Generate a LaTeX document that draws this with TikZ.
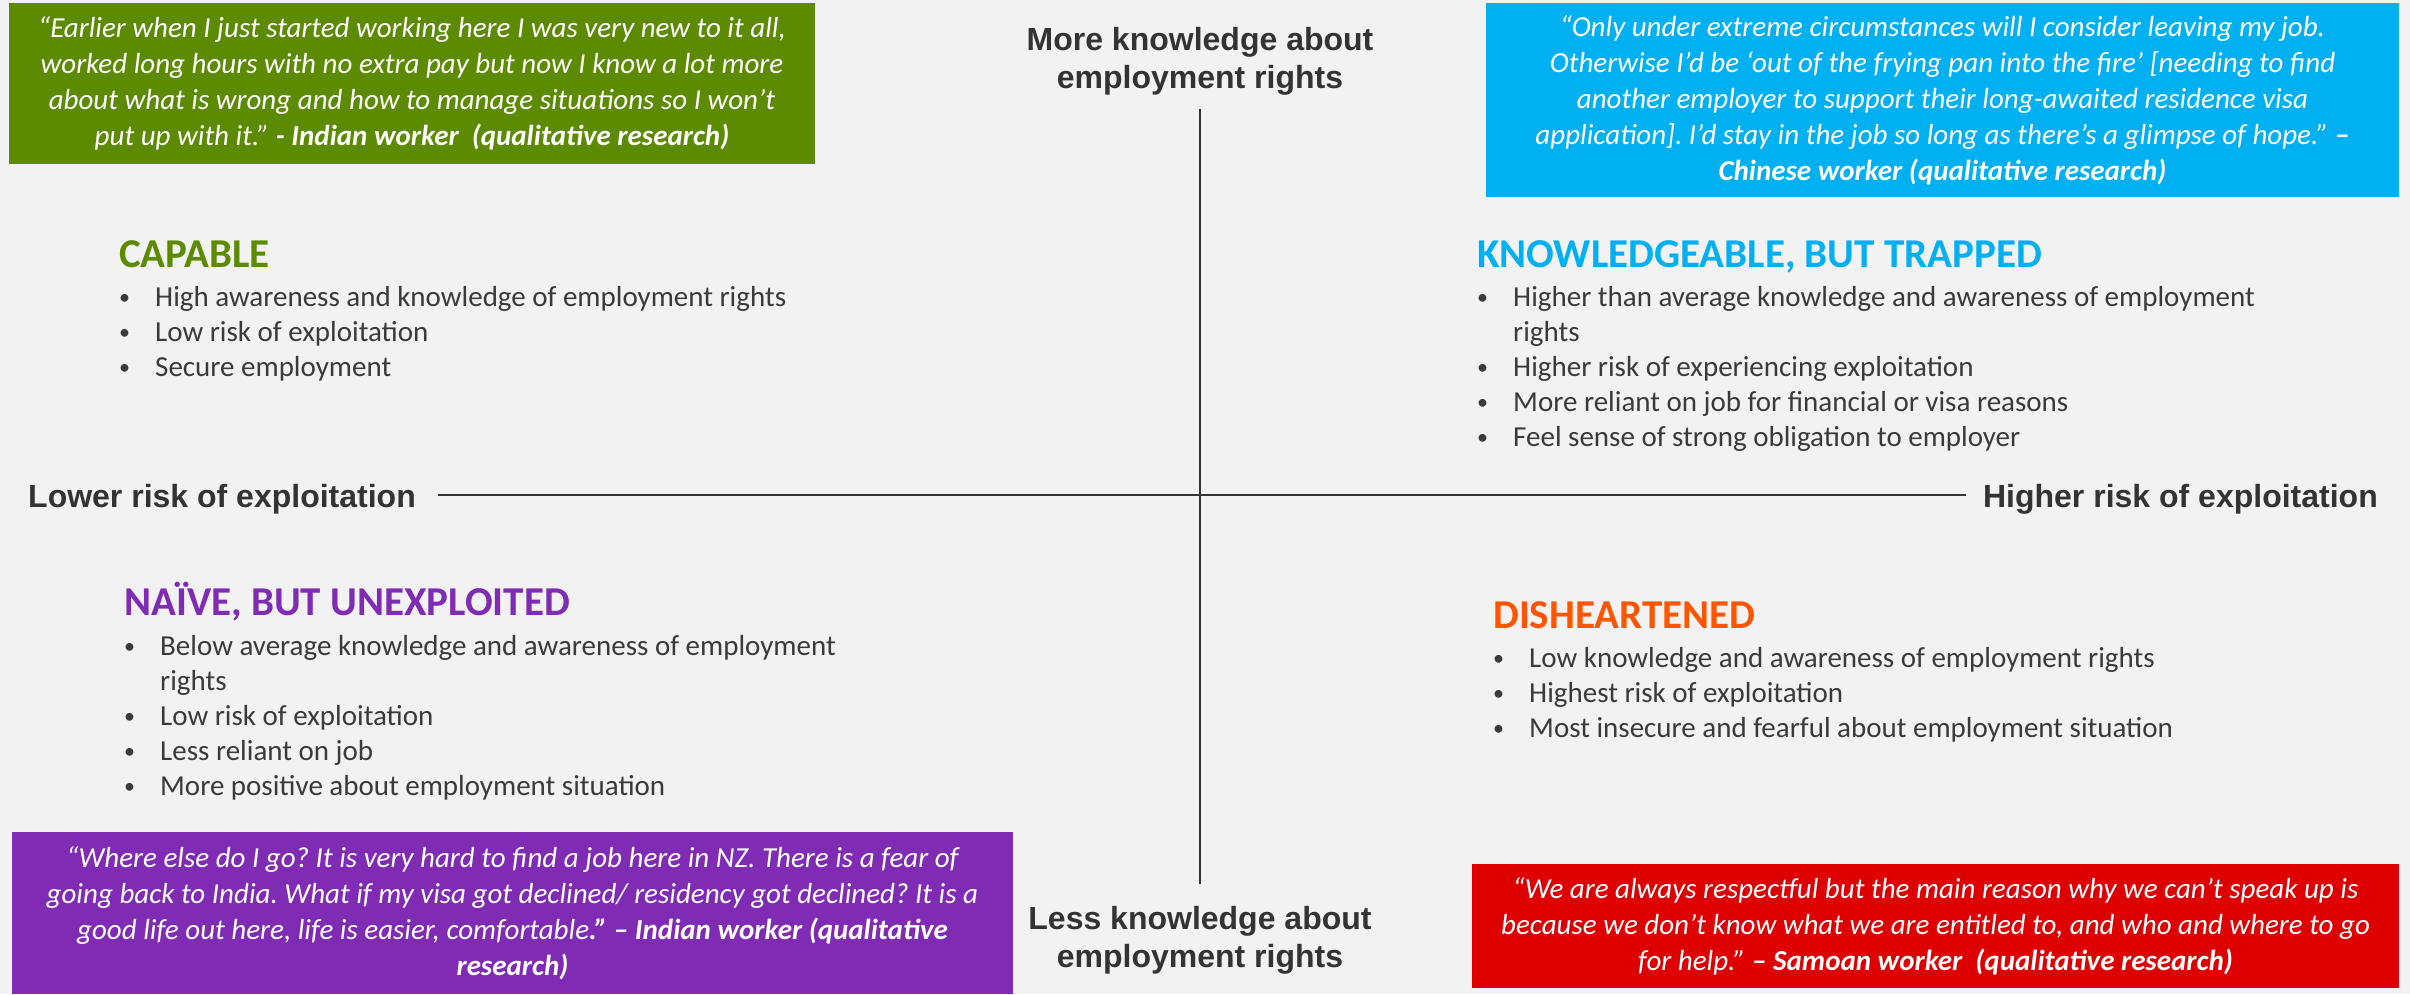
\documentclass[tikz,border=0pt]{standalone}
\usepackage{fontspec}
\setmainfont{Carlito}
\newfontfamily\axisfont{Liberation Sans}
\usepackage{tikz}
\usetikzlibrary{positioning}
\definecolor{bgcol}{HTML}{F2F2F2}
\definecolor{capgreen}{HTML}{5C8A00}
\definecolor{trapblue}{HTML}{00B0F0}
\definecolor{naivepurple}{HTML}{7F2BB4}
\definecolor{heartorange}{HTML}{FF5500}
\definecolor{quotered}{HTML}{DE0000}
\definecolor{bodygray}{HTML}{3A3A3A}
\definecolor{axisgray}{HTML}{333333}
\newcommand{\blt}{\raisebox{2pt}{\fontsize{22}{22}\selectfont •}}
\frenchspacing

\begin{document}
\begin{tikzpicture}[x=1pt,y=-1pt,
  quotebox/.style={fill=#1,text=white,align=center,inner sep=0pt,font=\fontsize{29}{36}\selectfont\itshape},
  quadhead/.style={text=#1,anchor=base west,inner sep=0pt,font=\fontsize{41}{49}\selectfont\bfseries},
  quaditems/.style={text=bodygray,anchor=base west,inner sep=0pt,font=\fontsize{29}{35}\selectfont},
  axislabel/.style={text=axisgray,inner sep=0pt,align=center,font=\axisfont\fontsize{32}{38}\selectfont\bfseries},
  axisline/.style={draw=axisgray,line width=2.2pt}]
\path[fill=bgcol,use as bounding box] (0,0) rectangle (2410,994);

\node[quotebox=capgreen,minimum width=806pt,minimum height=161pt] (capquote) at (412,83.5)
  {“Earlier when I just started working here I was very new to it all,\\
   worked long hours with no extra pay but now I know a lot more\\
   about what is wrong and how to manage situations so I won’t\\
   put up with it.” \textbf{- Indian worker\ \ (qualitative research)}};
\node[quotebox=trapblue,minimum width=913pt,minimum height=194pt] (trapquote) at (1942.5,100)
  {“Only under extreme circumstances will I consider leaving my job.\\
   Otherwise I’d be ‘out of the frying pan into the fire’ [needing to find\\
   another employer to support their long-awaited residence visa\\
   application]. I’d stay in the job so long as there’s a glimpse of hope.” \textbf{–}\\
   \textbf{Chinese worker (qualitative research)}};
\node[quotebox=naivepurple,minimum width=1001pt,minimum height=162pt] (naivequote) at (512.5,913)
  {“Where else do I go? It is very hard to find a job here in NZ. There is a fear of\\
   going back to India. What if my visa got declined/ residency got declined? It is a\\
   good life out here, life is easier, comfortable\textbf{.” – Indian worker (qualitative}\\
   \textbf{research)}};
\node[quotebox=quotered,minimum width=927pt,minimum height=124pt] (heartquote) at (1935.5,926)
  {“We are always respectful but the main reason why we can’t speak up is\\
   because we don’t know what we are entitled to, and who and where to go\\
   for help.” \textbf{– Samoan worker\ \ (qualitative research)}};

\coordinate (ytop) at (1200,109);
\coordinate (ybot) at (1200,884);
\coordinate (xleft) at (438,495);
\coordinate (xright) at (1966,495);
\draw[axisline] (ytop) -- (ybot);
\draw[axisline] (xleft) -- (xright);

\node[axislabel] (moreknow) at (1200,61) {More knowledge about\\employment rights};
\node[axislabel] (lessknow) at (1200,940) {Less knowledge about\\employment rights};
\node[axislabel,anchor=base west] (lowrisk) at (28,507) {Lower risk of exploitation};
\node[axislabel,anchor=base east] (highrisk) at (2378,507) {Higher risk of exploitation};

\node[quadhead=capgreen] (caphead) at (119,267) {CAPABLE};
\node[quaditems] (capitems) at (119,306) {\begin{tabular}[t]{@{}p{36pt}@{}l@{}}
  \blt & High awareness and knowledge of employment rights\\
  \blt & Low risk of exploitation\\
  \blt & Secure employment
  \end{tabular}};

\node[quadhead=trapblue] (traphead) at (1477,267) {KNOWLEDGEABLE, BUT TRAPPED};
\node[quaditems] (trapitems) at (1477,306) {\begin{tabular}[t]{@{}p{36pt}@{}l@{}}
  \blt & Higher than average knowledge and awareness of employment\\
       & rights\\
  \blt & Higher risk of experiencing exploitation\\
  \blt & More reliant on job for financial or visa reasons\\
  \blt & Feel sense of strong obligation to employer
  \end{tabular}};

\node[quadhead=naivepurple] (naivehead) at (124,615) {NAÏVE, BUT UNEXPLOITED};
\node[quaditems] (naiveitems) at (124,655) {\begin{tabular}[t]{@{}p{36pt}@{}l@{}}
  \blt & Below average knowledge and awareness of employment\\
       & rights\\
  \blt & Low risk of exploitation\\
  \blt & Less reliant on job\\
  \blt & More positive about employment situation
  \end{tabular}};

\node[quadhead=heartorange] (hearthead) at (1493,628) {DISHEARTENED};
\node[quaditems] (heartitems) at (1493,667) {\begin{tabular}[t]{@{}p{36pt}@{}l@{}}
  \blt & Low knowledge and awareness of employment rights\\
  \blt & Highest risk of exploitation\\
  \blt & Most insecure and fearful about employment situation
  \end{tabular}};
\end{tikzpicture}
\end{document}
